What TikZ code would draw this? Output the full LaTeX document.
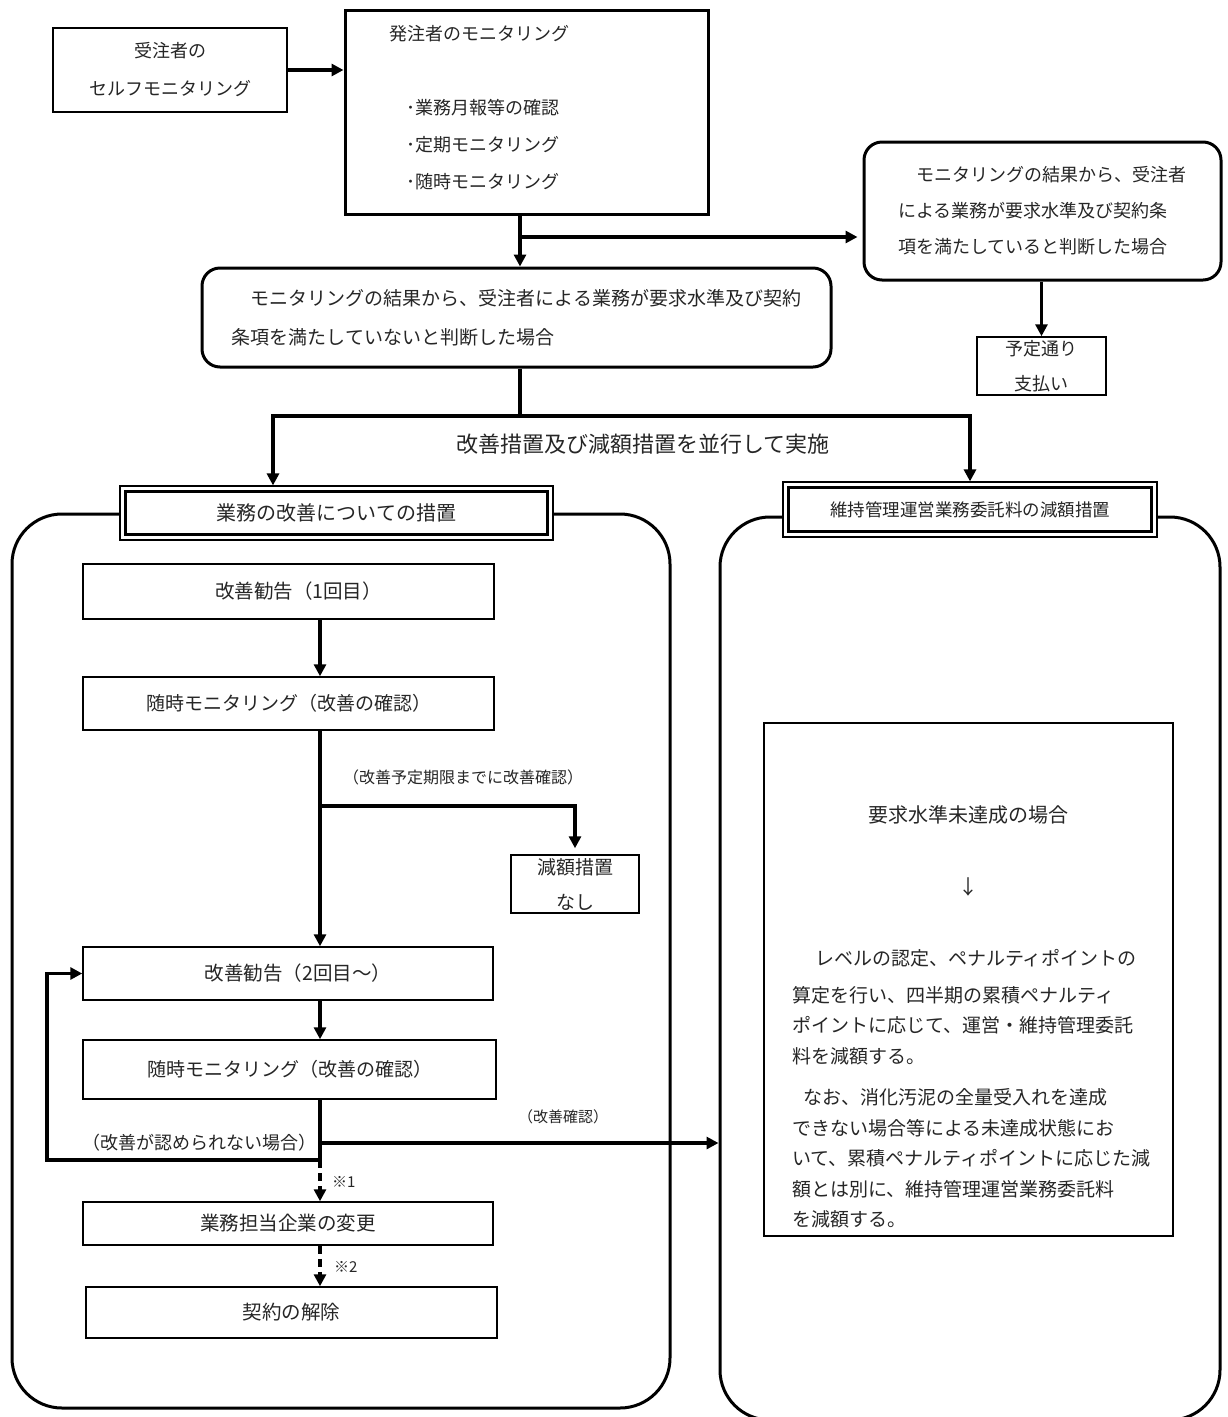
\documentclass[tikz,border=0pt]{standalone}
\usepackage{fontspec}
\newfontfamily\jp{Noto Sans CJK JP}
\usetikzlibrary{arrows.meta}
\newcommand{\fs}[2]{\fontsize{#1}{#2}\selectfont}
\begin{document}
\begin{tikzpicture}[x=1pt,y=-1pt,
 every node/.style={font=\jp\fs{18}{22}, text=black!85, inner sep=0pt},
 thinbox/.style={draw, line width=1.5pt},
 thickbox/.style={draw, line width=3pt},
 rbox/.style={draw, line width=3pt, rounded corners=18pt},
 bigbox/.style={draw, line width=3pt, rounded corners=50pt},
 conn/.style={line width=3.5pt},
 arr/.style={conn, -{Triangle[length=12pt,width=12pt]}},
 dsh/.style={dash pattern=on 8pt off 5pt},
]
\fill[white] (0,0) rectangle (1227,1417);
\useasboundingbox (0,0) rectangle (1227,1417);

% top part
\node[thinbox, minimum width=234pt, minimum height=84pt, align=center, font=\jp\fs{18}{38}] (self) at (170,70) {受注者の\\セルフモニタリング};
\node[thickbox, minimum width=363pt, minimum height=204pt] (owner) at (526.5,112) {};
\node[anchor=west] (ownT) at (389,34) {発注者のモニタリング};
\node[anchor=west] (ownB1) at (406,108) {･業務月報等の確認};
\node[anchor=west] (ownB2) at (406,145) {･定期モニタリング};
\node[anchor=west] (ownB3) at (406,182) {･随時モニタリング};

\node[rbox, minimum width=357pt, minimum height=138pt, align=left, font=\jp\fs{18}{36}] (yes) at (1042.5,211) {\hspace*{1em}モニタリングの結果から、受注者\\による業務が要求水準及び契約条\\項を満たしていると判断した場合};
\node[thinbox, minimum width=129pt, minimum height=58pt, align=center, font=\jp\fs{18}{35}] (pay) at (1041.5,366) {予定通り\\支払い};

\node[rbox, minimum width=629pt, minimum height=99pt, align=left, font=\jp\fs{19}{39}] (notmet) at (516.5,317.5) {\hspace*{1em}モニタリングの結果から、受注者による業務が要求水準及び契約\\条項を満たしていないと判断した場合};

\node[font=\jp\fs{22}{26}] (par) at (643,444) {改善措置及び減額措置を並行して実施};

% big rounded frames
\node[bigbox, minimum width=658pt, minimum height=894pt] (lbig) at (341,961) {};
\node[bigbox, minimum width=500pt, minimum height=903pt] (rbig) at (970,968.5) {};

% headers
\node[draw, line width=1.2pt, fill=white, minimum width=433pt, minimum height=54pt] (hLo) at (336.5,513) {};
\node[draw, line width=2.5pt, minimum width=422pt, minimum height=43pt, font=\jp\fs{20}{24}] (hL) at (hLo) {業務の改善についての措置};
\node[draw, line width=1.2pt, fill=white, minimum width=374pt, minimum height=55pt] (hRo) at (970,509.5) {};
\node[draw, line width=2.5pt, minimum width=363pt, minimum height=44pt, font=\jp\fs{17.5}{21}] (hR) at (hRo) {維持管理運営業務委託料の減額措置};

% left column
\node[thinbox, minimum width=411pt, minimum height=55pt, font=\jp\fs{19.5}{24}] (k1) at (288.5,591.5) {\hspace*{20pt}改善勧告（1回目）};
\node[thinbox, minimum width=411pt, minimum height=53pt, font=\jp\fs{19}{24}] (m1) at (288.5,703.5) {随時モニタリング（改善の確認）};
\node[thinbox, minimum width=128pt, minimum height=58pt, align=center, font=\jp\fs{19}{35}] (none) at (575,884) {減額措置\\なし};
\node[thinbox, minimum width=410pt, minimum height=53pt, font=\jp\fs{19.5}{24}] (k2) at (288,973.5) {\hspace*{20pt}改善勧告（2回目～）};
\node[thinbox, minimum width=413pt, minimum height=59pt, font=\jp\fs{19}{24}] (m2) at (289.5,1069.5) {随時モニタリング（改善の確認）};
\node[thinbox, minimum width=410pt, minimum height=43pt, font=\jp\fs{19.5}{24}] (chg) at (288,1223.5) {業務担当企業の変更};
\node[thinbox, minimum width=411pt, minimum height=51pt, font=\jp\fs{19.5}{24}] (cancel) at (291.5,1312.5) {契約の解除};

\node[anchor=west, font=\jp\fs{16}{20}] (lblA) at (343,777) {（改善予定期限までに改善確認）};
\node[font=\jp\fs{15}{18}] (lblB) at (563,1117) {（改善確認）};
\node[anchor=east, font=\jp\fs{18}{22}] (lblC) at (317,1143) {（改善が認められない場合）};
\node[anchor=west, font=\jp\fs{15}{18}] (n1) at (332,1182) {※1};
\node[anchor=west, font=\jp\fs{15}{18}] (n2) at (334,1267) {※2};

% right inner box
\node[thinbox, minimum width=409pt, minimum height=513pt] (rin) at (968.5,979.5) {};
\node[font=\jp\fs{20}{24}] (t1) at (968,815) {要求水準未達成の場合};
\node[font=\jp\fs{20}{24}] (t2) at (968,887) {↓};
\node[anchor=north west, align=left, font=\jp\fs{19}{30.5}] (t3) at (792,949.5) {\hspace*{1.2em}レベルの認定、ペナルティポイントの\\[6pt]算定を行い、四半期の累積ペナルティ\\ポイントに応じて、運営・維持管理委託\\料を減額する。};
\node[anchor=north west, align=left, font=\jp\fs{19}{30.5}] (t4) at (792,1088.5) {\hspace*{0.6em}なお、消化汚泥の全量受入れを達成\\できない場合等による未達成状態にお\\いて、累積ペナルティポイントに応じた減\\額とは別に、維持管理運営業務委託料\\を減額する。};

% coordinates
\coordinate (j1) at (520,237);
\coordinate (split) at (520,416);
\coordinate (b1) at (273,416);
\coordinate (b2) at (970,416);
\coordinate (colx) at (320,0);
\coordinate (br1) at (320,806);
\coordinate (br2) at (320,1143);
\coordinate (br3) at (320,1160);
\coordinate (lp) at (47,1160);

% connectors
\draw[arr] (self.east) -- (owner.west |- self.east);
\draw[conn] (owner.south -| j1) -- (j1);
\draw[arr] (j1) -- (notmet.north -| j1);
\draw[arr, shorten >=5pt] (j1) -- (yes.west |- j1);
\draw[arr] (yes.south -| pay.north) -- (pay.north);
\draw[conn] (notmet.south -| split) -- (split);
\draw[arr] (split) -- (b1) -- (hLo.north -| b1);
\draw[arr] (split) -- (b2) -- (hRo.north -| b2);

\draw[arr] (k1.south -| colx) -- (m1.north -| colx);
\draw[arr] (m1.south -| colx) -- (k2.north -| colx);
\draw[arr, shorten >=6pt] (br1) -| (none.north);
\draw[arr] (k2.south -| colx) -- (m2.north -| colx);
\draw[conn] (m2.south -| colx) -- (br3);
\draw[arr] (br2) -- (rbig.west |- br2);
\draw[arr] (br3) -- (lp) |- (k2.west);
\draw[arr, dsh] (br3) -- (chg.north -| colx);
\draw[arr, dsh] (chg.south -| colx) -- (cancel.north -| colx);
\end{tikzpicture}
\end{document}
